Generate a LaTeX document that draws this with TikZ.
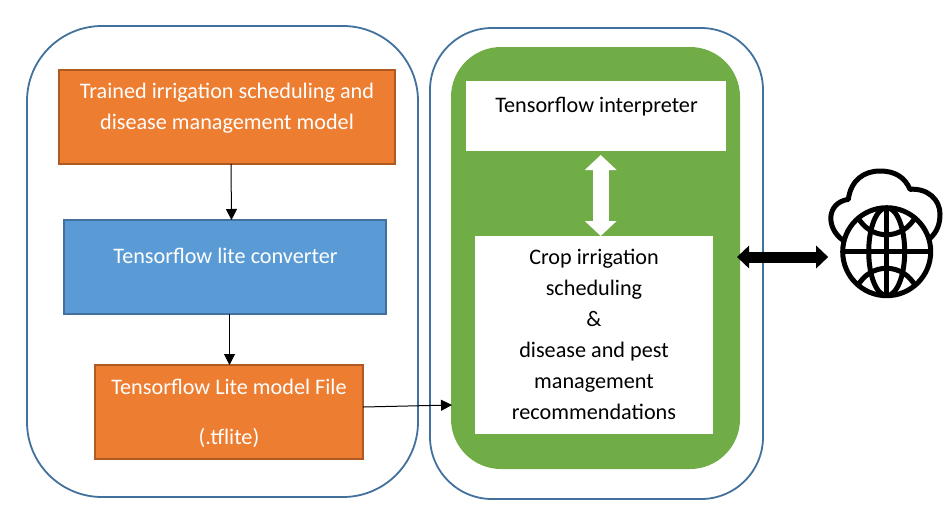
\documentclass[tikz,border=0pt]{standalone}
\usepackage{fontspec}
\setmainfont{Carlito}
\usetikzlibrary{arrows.meta,calc}
\definecolor{panelblue}{HTML}{41719C}
\definecolor{orangefill}{HTML}{ED7D31}
\definecolor{orangeline}{HTML}{AE5A21}
\definecolor{bluefill}{HTML}{5B9BD5}
\definecolor{greenfill}{HTML}{70AD47}
\tikzset{
  x=1pt,y=-1pt,
  panel/.style={draw=panelblue,line width=1.8pt,fill=white,rounded corners=#1,inner sep=0pt,outer sep=0pt},
  flatbox/.style={inner sep=0pt,outer sep=0pt,line width=1.8pt},
  orangebox/.style={flatbox,draw=orangeline,fill=orangefill},
  bluebox/.style={flatbox,draw=panelblue,fill=bluefill},
  whitebox/.style={flatbox,fill=white},
  txt/.style={inner sep=0pt,align=center,font=\fontsize{22.2pt}{31pt}\selectfont},
  wtxt/.style={txt,text=white},
  conn/.style={line width=1pt,-{Triangle[length=11pt,width=11pt]}},
  whitearrow/.style={draw=white,line width=16pt,{Triangle[length=15pt,width=31pt]}-{Triangle[length=15pt,width=31pt]}},
  blackarrow/.style={draw=black,line width=11pt,{Triangle[length=12pt,width=22pt]}-{Triangle[length=12pt,width=22pt]}},
  icon/.style={line width=5pt,draw=black,line join=round},
}
\begin{document}
\begin{tikzpicture}
\useasboundingbox (0,0) rectangle (947,512);
% panels
\node[panel=75pt,minimum width=391pt,minimum height=471pt] (left) at (222.5,261.5) {};
\node[panel=62pt,minimum width=333pt,minimum height=471pt] (right) at (596.5,263.5) {};
\node[fill=greenfill,rounded corners=50pt,inner sep=0pt,outer sep=0pt,minimum width=289pt,minimum height=422pt] (green) at (595.5,258) {};
% left boxes
\node[orangebox,minimum width=336pt,minimum height=94pt] (trained) at (227,117) {};
\node[bluebox,minimum width=322pt,minimum height=94pt] (conv) at (225,267) {};
\node[orangebox,minimum width=268pt,minimum height=94pt] (tflite) at (229,412) {};
\node[wtxt] (t1) at (227,108.5) {Trained irrigation scheduling and\\disease management model};
\node[wtxt] (t2) at (225.5,255.5) {Tensorflow lite converter};
\node[wtxt] (t3) at (229,386.5) {Tensorflow Lite model File};
\node[wtxt] (t4) at (229,437.5) {(.tflite)};
% right boxes
\node[whitebox,minimum width=260pt,minimum height=70pt] (interp) at (596,116) {};
\node[whitebox,minimum width=238pt,minimum height=198pt] (crop) at (594,335) {};
\node[txt] (t5) at (596.5,106.5) {Tensorflow interpreter};
\node[txt] (t6) at (594,334) {Crop irrigation\\scheduling\\\&\\disease and pest\\management\\recommendations};
\draw[whitearrow] ($(interp.south)+(4.7,4)$) -- ($(crop.north)+(6.7,0)$);
% connectors
\draw[conn] ([xshift=4pt]trained.south) -- ([xshift=6.5pt]conv.north);
\draw[conn] ([xshift=4.5pt]conv.south) -- ([xshift=0.5pt]tflite.north);
\draw[conn] ($(tflite.east)+(0,-5)$) -- ($(green.west)+(1,147)$);
% cloud
\coordinate (cA) at (842.7,240);
\coordinate (cB) at (848.3,199.3);
\coordinate (cC) at (910,189.3);
\coordinate (cD) at (930,238.3);
\node[inner sep=0pt,outer sep=0pt,minimum size=88pt,circle] (globe) at (886.7,251.7) {};
\draw[icon,line cap=round] (cA) .. controls (826,228) and (826,203) .. (cB)
  .. controls (851,180) and (864,171) .. (880,171)
  .. controls (896,171) and (905,178) .. (910,189.3)
  .. controls (928,188) and (940,200) .. (940,214)
  .. controls (940,224) and (937,232) .. (cD);
% globe
\begin{scope}
\clip (886.7,251.7) circle (44pt);
\fill[white] (886.7,251.7) circle (44pt);
\draw[icon] (886.7,251.7) ellipse (18pt and 44pt);
\draw[icon] (886.7,205) -- (886.7,298);
\draw[icon] (840,251.7) -- (932,251.7);
\draw[icon] (857,216) .. controls (870,241) and (903,241) .. (916,216);
\draw[icon] (857,287) .. controls (870,262) and (903,262) .. (916,287);
\end{scope}
\draw[icon] (globe) circle (44pt);
% black double arrow
\draw[blackarrow] ($(crop.east)+(24,-78)$) -- ($(globe.west)+(-14.5,5.3)$);
\end{tikzpicture}
\end{document}
